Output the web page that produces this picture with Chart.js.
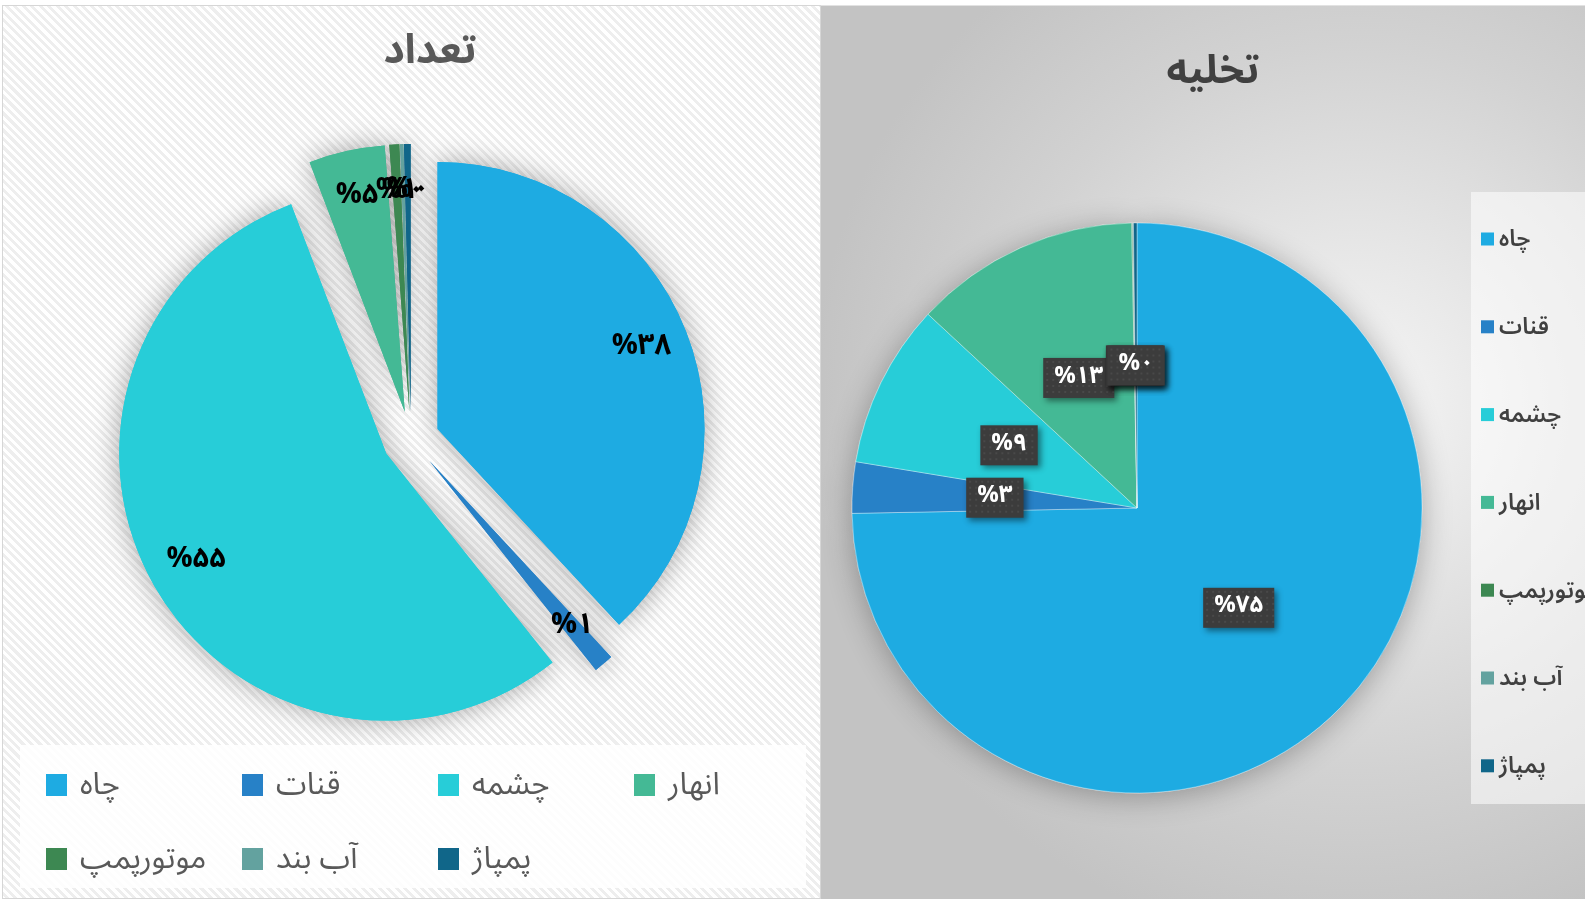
<!DOCTYPE html>
<html lang="fa">
<head>
<meta charset="utf-8">
<script src="https://cdn.jsdelivr.net/npm/chart.js@4.4.1/dist/chart.umd.min.js"></script>
<style>
    html, body { margin: 0; padding: 0; width: 1585px; height: 899px; overflow: hidden; background: #ffffff; }
    #panelCount {
        position: absolute; left: 2px; top: 5px; width: 819px; height: 894px;
        background: repeating-linear-gradient(45deg, #ffffff 0px, #ffffff 3px, #eeeeee 3px, #eeeeee 6px);
        box-shadow: inset 0 0 0 1px #d6d6d6;
    }
    #panelDrain {
        position: absolute; left: 821px; top: 5px; width: 764px; height: 894px;
        background: radial-gradient(circle farthest-corner at 70% 45%, #f6f6f6 0%, #e8e8e8 20%, #d2d2d2 50%, #c3c3c3 75%);
        box-shadow: inset 0 1px 0 0 #e2e2e2;
    }
    canvas { display: block; }
</style>
</head>
<body>
<div id="panelCount"><canvas id="countChart"></canvas></div>
<div id="panelDrain"><canvas id="drainChart"></canvas></div>
<script>
// Datos
const categorias = ['چاه', 'قنات', 'چشمه', 'انهار', 'موتورپمپ', 'آب بند', 'پمپاژ'];
const colores = ['#1eabe2', '#2781c7', '#27cdd8', '#44b995', '#3d8852', '#63a29f', '#106689'];
const porcentajeTedad = [38.1, 1.2, 54.9, 4.6, 0.6, 0.2, 0.4];   // تعداد
const porcentajeTakhlie = [74.7, 2.9, 9.3, 12.8, 0.05, 0.05, 0.2]; // تخلیه

const FONT = "'Noto Sans Arabic', 'DejaVu Sans', sans-serif";

function aPersa(n) {
    return String(n).replace(/[0-9]/g, d => '۰۱۲۳۴۵۶۷۸۹'[d]);
}

// Dibuja los arcos separados del centro (explosión) con sombra suave debajo
const pastelExplotado = {
    id: 'pastelExplotado',
    beforeDatasetDraw(chart, args, opts) {
        const ctx = chart.ctx;
        const arcos = args.meta.data;
        const pasada = () => arcos.forEach(arc => {
            const medio = (arc.startAngle + arc.endAngle) / 2;
            ctx.save();
            ctx.translate(Math.cos(medio) * opts.explode, Math.sin(medio) * opts.explode);
            arc.draw(ctx);
            ctx.restore();
        });
        ctx.save();
        ctx.shadowColor = opts.shadowColor;
        ctx.shadowBlur = opts.blur;
        ctx.shadowOffsetY = opts.dy || 0;
        pasada();
        ctx.restore();
        pasada();
        return false;
    }
};

// Etiquetas de porcentaje
const etiquetas = {
    id: 'etiquetas',
    afterDatasetsDraw(chart, args, opts) {
        const ctx = chart.ctx;
        const valores = chart.data.datasets[0].data;
        chart.getDatasetMeta(0).data.forEach((arc, i) => {
            const p = arc.getProps(['x', 'y', 'startAngle', 'endAngle', 'outerRadius']);
            const medio = (p.startAngle + p.endAngle) / 2;
            const d = opts.explode + opts.factor * p.outerRadius;
            const x = p.x + Math.cos(medio) * d;
            const y = p.y + Math.sin(medio) * d;
            const texto = '%' + aPersa(Math.round(valores[i]));
            ctx.save();
            ctx.font = opts.font;
            ctx.textAlign = 'center';
            ctx.textBaseline = 'middle';
            if (opts.caja) {
                const w = ctx.measureText(texto).width + 22;
                const h = 40;
                ctx.shadowColor = 'rgba(0,0,0,0.45)';
                ctx.shadowBlur = 6;
                ctx.shadowOffsetX = 3;
                ctx.shadowOffsetY = 3;
                ctx.fillStyle = '#3c3c3c';
                ctx.fillRect(x - w / 2, y - h / 2, w, h);
                ctx.shadowColor = 'transparent';
                ctx.fillStyle = 'rgba(255,255,255,0.07)';
                for (let dx = 3; dx < w - 2; dx += 6) {
                    for (let dy = 3; dy < h - 2; dy += 6) {
                        ctx.fillRect(x - w / 2 + dx, y - h / 2 + dy, 2, 2);
                    }
                }
            }
            ctx.fillStyle = opts.color;
            ctx.fillText(texto, x, y + 1);
            ctx.restore();
        });
    }
};

// Título y leyenda dibujados en el canvas
const tituloLeyenda = {
    id: 'tituloLeyenda',
    afterDraw(chart, args, opts) {
        const ctx = chart.ctx;
        const colors = chart.data.datasets[0].backgroundColor;
        ctx.save();
        ctx.font = opts.titleFont;
        ctx.fillStyle = opts.titleColor;
        ctx.textAlign = 'center';
        ctx.textBaseline = 'middle';
        ctx.fillText(opts.title, opts.titleX, opts.titleY);

        const L = opts.legend;
        ctx.fillStyle = L.bg;
        ctx.fillRect(L.x, L.y, L.w, L.h);
        ctx.font = L.font;
        ctx.textAlign = 'left';
        chart.data.labels.forEach((label, i) => {
            const col = i % L.cols;
            const row = Math.floor(i / L.cols);
            const bx = L.itemX + col * L.colStep;
            const cy = L.itemY + row * L.rowStep;
            ctx.fillStyle = colors[i];
            ctx.fillRect(bx, cy - L.boxH / 2 - L.boxRise, L.boxW, L.boxH);
            ctx.fillStyle = L.color;
            ctx.fillText(label, bx + L.textGap, cy);
        });
        ctx.restore();
    }
};

new Chart(document.getElementById('countChart'), {
    type: 'pie',
    data: {
        labels: categorias,
        datasets: [{
            data: porcentajeTedad,
            backgroundColor: colores,
            borderWidth: 0,
            radius: 267
        }]
    },
    options: {
        responsive: true,
        maintainAspectRatio: false,
        animation: false,
        layout: { padding: { left: 8, right: 9, top: 0, bottom: 25 } },
        plugins: {
            legend: { display: false },
            tooltip: { enabled: false },
            pastelExplotado: { explode: 28.5, shadowColor: 'rgba(0,0,0,0.35)', blur: 28 },
            etiquetas: { explode: 28.5, factor: 0.82, font: 'bold 29px ' + FONT, color: '#000000', caja: false },
            tituloLeyenda: {
                title: 'تعداد', titleX: 428, titleY: 52, titleFont: 'bold 41px ' + FONT, titleColor: '#595959',
                legend: {
                    x: 18, y: 740, w: 786, h: 143, bg: 'rgba(255,255,255,0.85)',
                    cols: 4, itemX: 44, itemY: 784, colStep: 196, rowStep: 74,
                    boxW: 21, boxH: 22, boxRise: 4, textGap: 34,
                    font: '31px ' + FONT, color: '#595959'
                }
            }
        }
    },
    plugins: [pastelExplotado, etiquetas, tituloLeyenda]
});

new Chart(document.getElementById('drainChart'), {
    type: 'pie',
    data: {
        labels: categorias,
        datasets: [{
            data: porcentajeTakhlie,
            backgroundColor: colores,
            borderWidth: 1,
            borderColor: 'rgba(255,255,255,0.35)',
            radius: 285
        }]
    },
    options: {
        responsive: true,
        maintainAspectRatio: false,
        animation: false,
        layout: { padding: { left: 0, right: 132, top: 112, bottom: 0 } },
        plugins: {
            legend: { display: false },
            tooltip: { enabled: false },
            pastelExplotado: { explode: 0, shadowColor: 'rgba(0,0,0,0.3)', blur: 30, dy: 4 },
            etiquetas: { explode: 0, factor: 0.5, font: 'bold 24px ' + FONT, color: '#ffffff', caja: true },
            tituloLeyenda: {
                title: 'تخلیه', titleX: 392, titleY: 72, titleFont: 'bold 40px ' + FONT, titleColor: '#404040',
                legend: {
                    x: 650, y: 187, w: 114, h: 612, bg: 'rgba(255,255,255,0.55)',
                    cols: 1, itemX: 660, itemY: 238, colStep: 0, rowStep: 87.8,
                    boxW: 13, boxH: 13, boxRise: 4, textGap: 18,
                    font: '600 23px ' + FONT, color: '#404040'
                }
            }
        }
    },
    plugins: [pastelExplotado, etiquetas, tituloLeyenda]
});
</script>
</body>
</html>
